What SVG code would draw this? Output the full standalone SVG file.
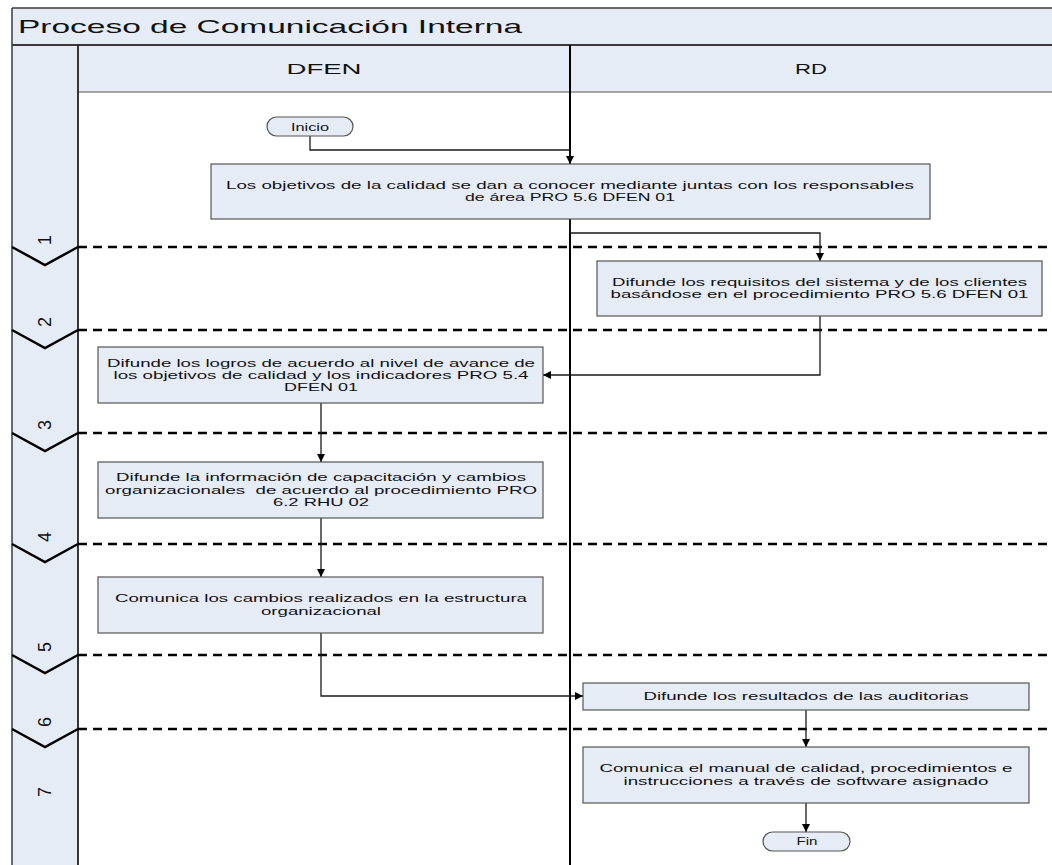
<svg xmlns="http://www.w3.org/2000/svg" width="1052" height="865" viewBox="0 0 1052 865">
<style>
.band{fill:#E6ECF6;}
.box{fill:#E6ECF6;stroke:#555555;stroke-width:1.2;}
.t{font-family:"Liberation Sans",Arial,sans-serif;font-size:11.8px;fill:#111;text-anchor:middle;}
.hd{font-family:"Liberation Sans",Arial,sans-serif;font-size:15px;fill:#111;text-anchor:middle;}
.num{font-family:"Liberation Sans",Arial,sans-serif;font-size:18px;fill:#111;text-anchor:middle;}
.dash{stroke:#000;stroke-width:2.5;stroke-dasharray:9 6;fill:none;}
.chev{stroke:#000;stroke-width:2.5;fill:none;}
.con{stroke:#1a1a1a;stroke-width:1.3;fill:none;}
</style>
<defs>
<marker id="ah" viewBox="0 0 10 10" refX="10" refY="5" markerWidth="8" markerHeight="8" markerUnits="userSpaceOnUse" orient="auto">
<path d="M0,0 L10,5 L0,10 z" fill="#000"/>
</marker>
</defs>
<rect width="1052" height="865" fill="#ffffff"/>
<g id="frame">
<rect class="band" x="12" y="8" width="1045" height="37"/>
<rect class="band" x="12" y="45" width="66" height="825"/>
<rect class="band" x="78" y="45" width="979" height="47"/>
<line x1="12" y1="8" x2="1052" y2="8" stroke="#3a3a3a" stroke-width="1.5"/>
<line x1="12" y1="8" x2="12" y2="865" stroke="#3a3a3a" stroke-width="1.5"/>
<line x1="12" y1="45" x2="1052" y2="45" stroke="#3a3a3a" stroke-width="2"/>
<line x1="78" y1="92" x2="1052" y2="92" stroke="#8a8a8a" stroke-width="1.5"/>
<line x1="78" y1="45" x2="78" y2="865" stroke="#222" stroke-width="1.8"/>
<line x1="570" y1="45" x2="570" y2="865" stroke="#000" stroke-width="2"/>
<text x="18" y="33" font-family="Liberation Sans, Arial, sans-serif" font-size="18.5" fill="#111" textLength="504" lengthAdjust="spacingAndGlyphs">Proceso de Comunicación Interna</text>
<text class="hd" x="324" y="74" textLength="75" lengthAdjust="spacingAndGlyphs">DFEN</text>
<text class="hd" x="811" y="74" textLength="32" lengthAdjust="spacingAndGlyphs">RD</text>
</g>
<g id="phases">
<path class="dash" d="M78,247 H1052 M78,330 H1052 M78,433 H1052 M78,544 H1052 M78,655 H1052 M78,729 H1052"/>
<polyline class="chev" points="12,247 45,265 78,247"/>
<polyline class="chev" points="12,330 45,348 78,330"/>
<polyline class="chev" points="12,433 45,451 78,433"/>
<polyline class="chev" points="12,544 45,562 78,544"/>
<polyline class="chev" points="12,655 45,673 78,655"/>
<polyline class="chev" points="12,729 45,747 78,729"/>
<text class="num" transform="translate(51,240) rotate(-90)">1</text>
<text class="num" transform="translate(51,322) rotate(-90)">2</text>
<text class="num" transform="translate(51,425) rotate(-90)">3</text>
<text class="num" transform="translate(51,537) rotate(-90)">4</text>
<text class="num" transform="translate(51,647) rotate(-90)">5</text>
<text class="num" transform="translate(51,722) rotate(-90)">6</text>
<text class="num" transform="translate(51,792) rotate(-90)">7</text>
</g>
<g id="connectors">
<polyline class="con" points="310,136 310,150 570,150 570,164" marker-end="url(#ah)"/>
<polyline class="con" points="570,219 570,233 820,233 820,261" marker-end="url(#ah)"/>
<polyline class="con" points="820,316 820,375 543,375" marker-end="url(#ah)"/>
<polyline class="con" points="321,403 321,462" marker-end="url(#ah)"/>
<polyline class="con" points="321,518 321,577" marker-end="url(#ah)"/>
<polyline class="con" points="321,633 321,696 583,696" marker-end="url(#ah)"/>
<polyline class="con" points="806,710 806,747" marker-end="url(#ah)"/>
<polyline class="con" points="806,803 806,832" marker-end="url(#ah)"/>
</g>
<g id="inicio">
<rect class="box" x="267" y="117" width="86" height="19" rx="9.5"/>
<text class="t" x="310" y="131" textLength="38" lengthAdjust="spacingAndGlyphs">Inicio</text>
</g>
<g id="n1">
<rect class="box" x="211" y="164" width="719" height="55"/>
<text class="t" x="570" y="189" textLength="688" lengthAdjust="spacingAndGlyphs">Los objetivos de la calidad se dan a conocer mediante juntas con los responsables</text>
<text class="t" x="570" y="201" textLength="210" lengthAdjust="spacingAndGlyphs">de área PRO 5.6 DFEN 01</text>
</g>
<g id="n2">
<rect class="box" x="597" y="261" width="445" height="55"/>
<text class="t" x="819.5" y="286" textLength="415" lengthAdjust="spacingAndGlyphs">Difunde los requisitos del sistema y de los clientes</text>
<text class="t" x="819.5" y="298" textLength="418" lengthAdjust="spacingAndGlyphs">basándose en el procedimiento PRO 5.6 DFEN 01</text>
</g>
<g id="n3">
<rect class="box" x="98" y="347" width="445" height="56"/>
<text class="t" x="321" y="367" textLength="428" lengthAdjust="spacingAndGlyphs">Difunde los logros de acuerdo al nivel de avance de</text>
<text class="t" x="321" y="379" textLength="415" lengthAdjust="spacingAndGlyphs">los objetivos de calidad y los indicadores PRO 5.4</text>
<text class="t" x="321" y="391" textLength="74" lengthAdjust="spacingAndGlyphs">DFEN 01</text>
</g>
<g id="n4">
<rect class="box" x="98" y="462" width="445" height="56"/>
<text class="t" x="321" y="481" textLength="410" lengthAdjust="spacingAndGlyphs">Difunde la información de capacitación y cambios</text>
<text class="t" x="321" y="494" textLength="432" lengthAdjust="spacingAndGlyphs" xml:space="preserve">organizacionales  de acuerdo al procedimiento PRO</text>
<text class="t" x="321" y="506" textLength="96" lengthAdjust="spacingAndGlyphs">6.2 RHU 02</text>
</g>
<g id="n5">
<rect class="box" x="98" y="577" width="445" height="56"/>
<text class="t" x="321" y="602" textLength="412" lengthAdjust="spacingAndGlyphs">Comunica los cambios realizados en la estructura</text>
<text class="t" x="321" y="615" textLength="120" lengthAdjust="spacingAndGlyphs">organizacional</text>
</g>
<g id="n6">
<rect class="box" x="583" y="683" width="446" height="27"/>
<text class="t" x="806" y="700" textLength="325" lengthAdjust="spacingAndGlyphs">Difunde los resultados de las auditorias</text>
</g>
<g id="n7">
<rect class="box" x="583" y="747" width="446" height="56"/>
<text class="t" x="806" y="772" textLength="413" lengthAdjust="spacingAndGlyphs">Comunica el manual de calidad, procedimientos e</text>
<text class="t" x="806" y="785" textLength="365" lengthAdjust="spacingAndGlyphs">instrucciones a través de software asignado</text>
</g>
<g id="fin">
<rect class="box" x="763" y="832" width="87" height="19" rx="9.5"/>
<text class="t" x="807" y="845" textLength="21" lengthAdjust="spacingAndGlyphs">Fin</text>
</g>
</svg>
